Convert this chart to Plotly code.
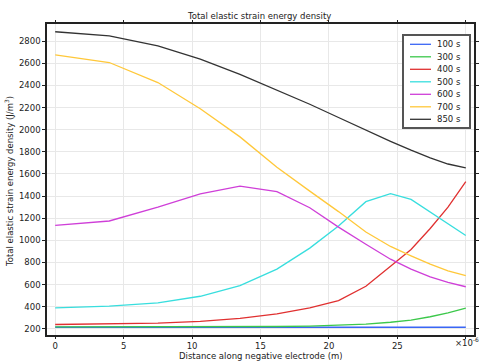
import plotly.graph_objects as go

# Distance along negative electrode (micrometres; axis shows x10^-6 m)
x_um = [0, 3.95, 7.5, 10.6, 13.5, 16.2, 18.6, 20.7, 22.7, 24.5, 26.0, 27.4, 28.7, 30]

s100 = [215, 215, 215, 215, 215, 215, 215, 215, 215, 215, 215, 215, 215, 215]
s300 = [218, 218, 218, 219, 220, 222, 226, 232, 243, 260, 280, 310, 345, 388]
s400 = [240, 245, 252, 268, 295, 335, 390, 455, 585, 766, 918, 1107, 1300, 1530]
s500 = [390, 405, 435, 495, 592, 740, 930, 1130, 1350, 1422, 1370, 1255, 1150, 1044]
s600 = [1135, 1175, 1300, 1420, 1490, 1440, 1295, 1120, 965, 830, 740, 670, 620, 581]
s700 = [2676, 2607, 2426, 2190, 1935, 1660, 1445, 1260, 1075, 945, 860, 785, 725, 682]
s850 = [2885, 2848, 2757, 2637, 2500, 2360, 2230, 2110, 1995, 1895, 1815, 1745, 1690, 1655]

series_names = ["100 s", "300 s", "400 s", "500 s", "600 s", "700 s", "850 s"]
series_values = [s100, s300, s400, s500, s600, s700, s850]
series_colors = ["#3a66f5", "#3cc84b", "#e03030", "#38dede", "#cf3fd8", "#ffc83a", "#333333"]

x_tickvals = [0, 5, 10, 15, 20, 25, 30]
x_ticktext = ["0", "5", "10", "15", "20", "25", ""]
y_tickvals = [200, 400, 600, 800, 1000, 1200, 1400, 1600, 1800, 2000, 2200, 2400, 2600, 2800]

FONT = "DejaVu Sans"
FS = 8.5
TXT = "#222222"
W, H = 481, 363
ML, MR, MT, MB = 47, 7, 24, 28
PW, PH = W - ML - MR, H - MT - MB


def px(xp):
    return (xp - ML) / PW


def py(yp):
    return (H - MB - yp) / PH


fig = go.Figure()
for name, vals, col in zip(series_names, series_values, series_colors):
    fig.add_trace(go.Scatter(x=x_um, y=vals, mode="lines", name=name,
                             line=dict(color=col, width=1.3), showlegend=False))

fig.update_layout(
    width=W, height=H,
    margin=dict(l=ML, r=MR, t=MT, b=MB, autoexpand=False),
    paper_bgcolor="white", plot_bgcolor="white",
    font=dict(family=FONT, size=FS, color=TXT),
    showlegend=False,
)

fig.update_xaxes(
    range=[-0.6, 30.6], tickmode="array", tickvals=x_tickvals, ticktext=x_ticktext,
    showgrid=True, gridcolor="#e8e8e8", gridwidth=1, zeroline=False,
    showline=True, linecolor=TXT, linewidth=1.5, mirror="ticks",
    ticks="outside", ticklen=2, tickcolor=TXT, tickwidth=1, automargin=False,
    tickfont=dict(family=FONT, size=FS, color=TXT),
)
fig.update_yaxes(
    range=[145, 2955], tickmode="array", tickvals=y_tickvals,
    showgrid=True, gridcolor="#e8e8e8", gridwidth=1, zeroline=False,
    showline=True, linecolor=TXT, linewidth=1.5, mirror="ticks",
    ticks="outside", ticklen=3, tickcolor=TXT, tickwidth=1, automargin=False,
    tickfont=dict(family=FONT, size=FS, color=TXT),
)

# Title and axis titles
fig.add_annotation(x=px(259), y=py(16), xref="paper", yref="paper", xanchor="center",
                   yanchor="middle", text="Total elastic strain energy density",
                   showarrow=False, font=dict(family=FONT, size=FS, color=TXT))
fig.add_annotation(x=px(261), y=py(356), xref="paper", yref="paper", xanchor="center",
                   yanchor="middle", text="Distance along negative electrode (m)",
                   showarrow=False, height=10, borderpad=0,
                   font=dict(family=FONT, size=FS, color=TXT))
fig.add_annotation(x=px(9), y=py(182), xref="paper", yref="paper", xanchor="center",
                   yanchor="middle", textangle=-90,
                   text="Total elastic strain energy density (J/m<sup>3</sup>)",
                   showarrow=False, font=dict(family=FONT, size=FS, color=TXT))
fig.add_annotation(x=px(481), y=py(342), xref="paper", yref="paper", xanchor="right",
                   yanchor="middle", text="×10<sup>-6</sup>",
                   showarrow=False, font=dict(family=FONT, size=FS, color=TXT))

# Legend box (drawn manually to match compact COMSOL legend)
fig.add_shape(type="rect", xref="paper", yref="paper",
              x0=px(403), x1=px(470), y0=py(128), y1=py(35),
              fillcolor="white", line=dict(color="#555555", width=2), layer="above")
for i, (name, col) in enumerate(zip(series_names, series_colors)):
    yy = 44.3 + i * 12.5
    fig.add_shape(type="line", xref="paper", yref="paper",
                  x0=px(410), x1=px(431), y0=py(yy), y1=py(yy),
                  line=dict(color=col, width=1.3), layer="above")
    fig.add_annotation(x=px(435), y=py(yy), xref="paper", yref="paper", xanchor="left",
                       yanchor="middle", text=name, showarrow=False,
                       font=dict(family=FONT, size=FS, color=TXT))

fig.write_html("out.html", config={"displayModeBar": False},
               post_script="document.body.style.margin='0px';"
                           "document.body.style.overflow='hidden';")
